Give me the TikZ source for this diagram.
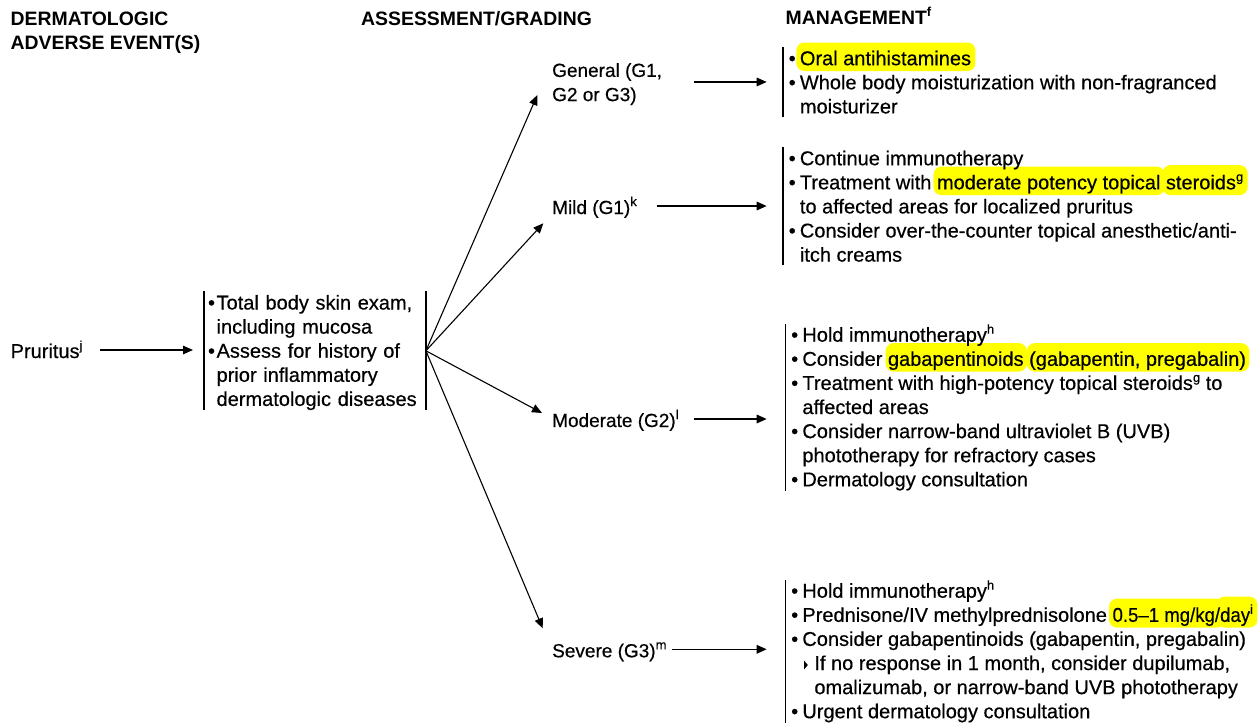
\documentclass[tikz,border=0pt]{standalone}
\usepackage{fontspec}
\setmainfont{Liberation Sans}[UprightFeatures={FakeBold=0.45}]
\usetikzlibrary{arrows.meta}
\definecolor{hly}{RGB}{255,255,0}
\newcommand\bodyf{\fontsize{20}{24.1}\selectfont}
\newcommand\gradef{\fontsize{19}{24.2}\selectfont}
\newcommand\headf{\fontsize{19.4}{24.5}\selectfont\bfseries}
\newcommand\sups[1]{\raisebox{8pt}{\fontsize{13}{13}\selectfont #1}}
\newcommand\bul{\makebox[11.2pt][l]{\textbullet}}
\newcommand\ind{\hspace*{11.2pt}}
\newcommand\abul{\makebox[8.6pt][l]{\textbullet}}
\newcommand\aind{\hspace*{8.6pt}}
\newcommand\subtri{\makebox[12pt][l]{\hspace*{1.6pt}\tikz[baseline=0pt]\fill (0pt,0.5pt) -- (0pt,9.5pt) -- (3.8pt,5pt) -- cycle;}}
\newcommand\topst{\rule{0pt}{18pt}}
\newcommand\botst{\rule[-3pt]{0pt}{3pt}}
\newcommand\dose{\scalebox{0.93}[1]{0.5–1 mg/kg/}}
\newcommand\doseday{\scalebox{0.93}[1]{day}\sups{i}}
% highlight: #1 name, #2 line origin, #3 text before, #4 highlighted text, #5 top above baseline, #6 side padding
\newcommand\hlat[6]{%
  \node[hlpre] (#1p) at (#2) {\phantom{#3}};
  \node[hl, text height=#5pt, inner xsep=#6pt] (#1) at ([xshift=-#6pt]#1p.base east) {\phantom{#4}};}
\tikzset{
  hlpre/.style={font=\bodyf, inner sep=0pt, anchor=base west},
  hl/.style={font=\bodyf, fill=hly, rounded corners=8pt, inner ysep=0pt, text depth=6pt, anchor=base west},
  mgmt/.style={font=\bodyf, align=left, inner xsep=5.5pt, inner ysep=0pt, anchor=north west},
  head/.style={font=\headf, inner sep=0pt},
  grade/.style={font=\gradef, inner sep=0pt, text height=16pt, text depth=0pt, anchor=west},
  tip/.style={-{Triangle[length=10pt,width=8.5pt]}},
  arr/.style={tip, line width=1.5pt},
  fan/.style={tip, line width=1.1pt},
  bar/.style={line width=1.8pt}
}
\begin{document}
\begin{tikzpicture}[x=1pt,y=-1pt]
\useasboundingbox (0,0) rectangle (1260,724);
% highlights (behind the text)
\hlat{h1}{788.5,65}{\bul}{Oral antihistamines}{22.5}{4}
\hlat{h2}{788.5,189.1}{\bul Treatment with }{moderate potency topical}{22.5}{4}
\hlat{h3}{788.5,189.1}{\bul Treatment with moderate potency topical }{steroids\sups{g}}{24}{4}
\hlat{h4}{791,365.6}{\bul Consider }{gabapentinoids}{22.5}{2.8}
\hlat{h5}{791,365.6}{\bul Consider gabapentinoids }{(gabapentin, pregabalin)}{22.5}{2.8}
\hlat{h6}{791,621.6}{\bul Prednisone/IV methylprednisolone }{\dose}{23}{4}
\hlat{h7}{791,621.6}{\bul Prednisone/IV methylprednisolone \dose}{\doseday}{25}{4}

% headers
\node[head, align=left, anchor=north west] (hd1) at (10.5,7) {\topst DERMATOLOGIC\\ADVERSE EVENT(S)};
\node[head, anchor=base west] (hd2) at (361,25) {ASSESSMENT/GRADING};
\node[head, anchor=base west] (hd3) at (785.5,24.5) {MANAGEMENT\sups{f}};

% event and assessment
\node[font=\bodyf, inner sep=0pt, text height=16pt, text depth=0pt, anchor=west] (pru) at (10.5,350) {Pruritus\sups{j}};
\node[font=\bodyf, align=left, text width=214.2pt, inner xsep=3.5pt, inner ysep=0pt, anchor=north west] (assess) at (204.3,291.3)
  {\topst\abul Total body skin exam,\\\aind including mucosa\\\abul Assess for history of\\\aind prior inflammatory\\\aind dermatologic diseases\botst};
\draw[bar] (assess.north west) -- (assess.south west);
\draw[bar] (assess.north east) -- (assess.south east);

% grades
\node[font=\gradef, inner sep=0pt, align=left, anchor=north west] (gen) at (552,58.7) {\topst General (G1,\\G2 or G3)};
\node[grade] (mild) at (552,206) {Mild (G1)\sups{k}};
\node[grade] (mod) at (552,419) {Moderate (G2)\sups{l}};
\node[grade] (sev) at (552,649.3) {Severe (G3)\sups{m}};

% management
\node[mgmt] (m1) at (783,47) {\topst\bul Oral antihistamines\\\bul Whole body moisturization with non-fragranced\\\ind moisturizer\botst};
\node[mgmt] (m2) at (783,147) {\topst\bul Continue immunotherapy\\\bul Treatment with moderate potency topical steroids\sups{g}\\\ind to affected areas for localized pruritus\\\bul Consider over-the-counter topical anesthetic/anti-\\\ind itch creams\botst};
\node[mgmt] (m3) at (785.5,323.5) {\topst\bul Hold immunotherapy\sups{h}\\\bul Consider gabapentinoids (gabapentin, pregabalin)\\\bul Treatment with high-potency topical steroids\sups{g} to\\\ind affected areas\\\bul Consider narrow-band ultraviolet B (UVB)\\\ind phototherapy for refractory cases\\\bul Dermatology consultation\botst};
\node[mgmt] (m4) at (785.5,579.5) {\topst\bul Hold immunotherapy\sups{h}\\\bul Prednisone/IV methylprednisolone \dose\doseday\\\bul Consider gabapentinoids (gabapentin, pregabalin)\\\ind\subtri If no response in 1 month, consider dupilumab,\\\ind\hspace*{12pt}omalizumab, or narrow-band UVB phototherapy\\\bul Urgent dermatology consultation\botst};
\foreach \m in {m1,m2,m3,m4} \draw[bar] (\m.north west) -- (\m.south west);

% connectors
\draw[arr, shorten <=17.7pt, shorten >=11.3pt] (pru.east) -- (pru.east -| assess.west);
\draw[fan] (assess.east) -- ([xshift=-14.7pt,yshift=-13.1pt]gen.west);
\draw[fan] (assess.east) -- ([xshift=-8.7pt,yshift=-17.3pt]mild.west);
\draw[fan] (assess.east) -- ([xshift=-10pt,yshift=6pt]mod.west);
\draw[fan] (assess.east) -- ([xshift=-9.3pt,yshift=21pt]sev.west);
\draw[arr, shorten <=32pt, shorten >=16.3pt] (gen.east) -- (gen.east -| m1.west);
\draw[arr, shorten <=19.5pt, shorten >=16.3pt] (mild.east) -- (mild.east -| m2.west);
\draw[arr, shorten <=15pt, shorten >=18.8pt] (mod.east) -- (mod.east -| m3.west);
\draw[arr, shorten <=5pt, shorten >=18.8pt] (sev.east) -- (sev.east -| m4.west);
\end{tikzpicture}
\end{document}
